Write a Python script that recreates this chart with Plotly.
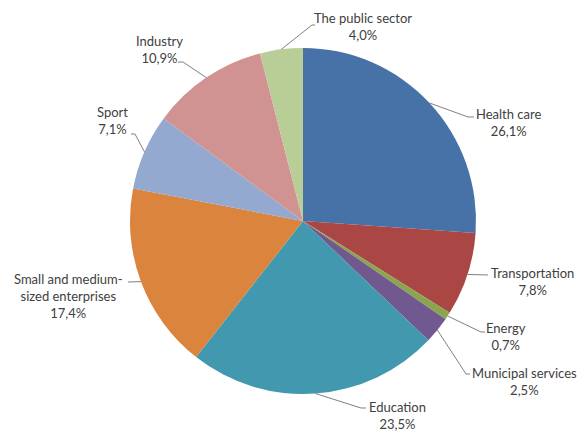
import math
import plotly.graph_objects as go

# Share of projects by sector (%)
sectors = ["Health care", "Transportation", "Energy", "Municipal services",
           "Education", "Small and medium-sized enterprises", "Sport",
           "Industry", "The public sector"]
shares = [26.1, 7.8, 0.7, 2.5, 23.5, 17.4, 7.1, 10.9, 4.0]
label_lines = ["Health care", "Transportation", "Energy", "Municipal services",
               "Education", "Small and medium-<br>sized enterprises", "Sport",
               "Industry", "The public sector"]
colors = ["#4672A8", "#AA4643", "#89A54E", "#71588F", "#4198AF",
          "#DB843D", "#93A9CF", "#D19392", "#B9CD96"]

W, H = 578, 432
# pie placement in pixels
CX, CY, R = 303, 221, 173

# label block centres (px) and leader-line bend points (px) per slice
label_pos = [(509, 122), (532, 281), (506, 336), (524, 381), (397, 415),
             (68, 296), (112, 121), (159, 50), (363, 26)]
leader_bends = [
    [(468, 117), (474, 117)],
    [(488, 275)],
    [(481, 332), (485, 332)],
    [(466, 374), (470, 374)],
    [(361, 408), (366, 408)],
    [(128, 282)],
    [(135, 134), (131, 134)],
    [(183, 62), (178, 62)],
    [(312, 25), (315, 25)],
]


def px(x, y):
    return x / W, 1 - y / H


fig = go.Figure(go.Pie(
    labels=sectors,
    values=shares,
    sort=False,
    direction="clockwise",
    rotation=0,
    textinfo="none",
    hoverinfo="label+percent",
    marker=dict(colors=colors, line=dict(color="white", width=0)),
    domain=dict(x=[(CX - R) / W, (CX + R) / W],
                y=[1 - (CY + R) / H, 1 - (CY - R) / H]),
    showlegend=False,
))

total = sum(shares)
cum = 0.0
shapes = []
annotations = []
for i, v in enumerate(shares):
    mid = (cum + v / 2) / total * 2 * math.pi
    cum += v
    ax = CX + R * math.sin(mid)
    ay = CY - R * math.cos(mid)
    pts = [(ax, ay)] + leader_bends[i]
    path = "M " + " L ".join(
        f"{px(x, y)[0]:.5f},{px(x, y)[1]:.5f}" for x, y in pts)
    shapes.append(dict(type="path", path=path, xref="paper", yref="paper",
                       line=dict(color="#808080", width=1)))
    tx, ty = label_pos[i]
    pct = f"{v:.1f}".replace(".", ",") + "%"
    annotations.append(dict(
        text=f"{label_lines[i]}<br>{pct}",
        x=px(tx, ty)[0], y=px(tx, ty)[1], xref="paper", yref="paper",
        xanchor="center", yanchor="middle", showarrow=False, align="center",
        font=dict(family="Lato, 'Open Sans', sans-serif", size=13,
                  color="#404040"),
    ))

fig.update_layout(
    width=W, height=H,
    margin=dict(l=0, r=0, t=0, b=0),
    paper_bgcolor="white",
    plot_bgcolor="white",
    shapes=shapes,
    annotations=annotations,
)

fig.write_html("out.html")
